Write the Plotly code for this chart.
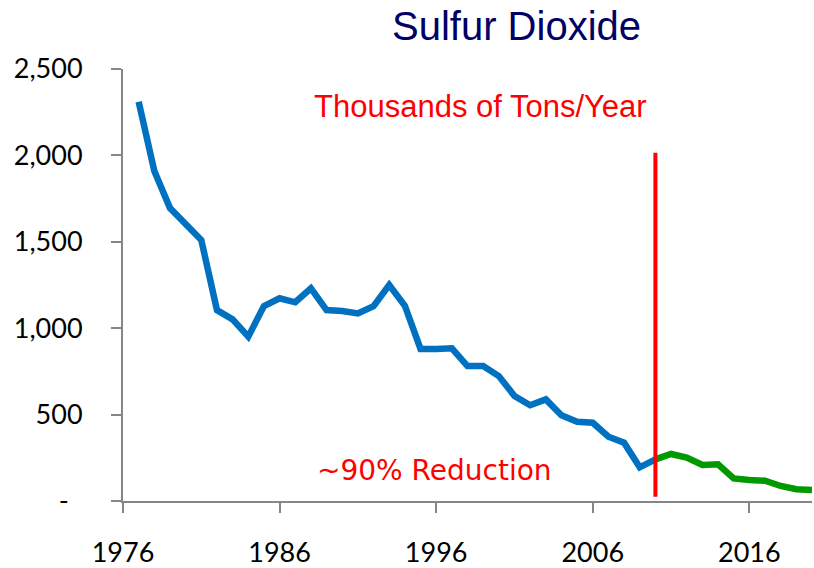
import plotly.graph_objects as go

# SO2 emissions, thousands of tons per year
years_early = list(range(1977, 2011))
so2_early = [2310, 1910, 1695, 1597, 1510, 1105, 1051, 951, 1128, 1173,
             1150, 1231, 1105, 1100, 1086, 1128, 1250, 1130, 880, 880,
             884, 781, 781, 723, 608, 554, 588, 496, 459, 453,
             372, 337, 195, 241]

years_late = list(range(2010, 2021))
so2_late = [241, 272, 251, 208, 212, 131, 122, 117, 87, 68, 64]

x_tick_vals = [1976, 1986, 1996, 2006, 2016]
x_tick_text = ["1976", "1986", "1996", "2006", "2016"]
y_tick_vals = [0, 500, 1000, 1500, 2000, 2500]
y_tick_text = ["-\u00a0\u00a0", "500", "1,000", "1,500", "2,000", "2,500"]

marker_year = 2010
marker_span = [25, 2015]

fig = go.Figure()
fig.add_trace(go.Scatter(x=years_early, y=so2_early, mode="lines",
                         line=dict(color="#0070C0", width=6.5),
                         hoverinfo="x+y"))
fig.add_trace(go.Scatter(x=years_late, y=so2_late, mode="lines",
                         line=dict(color="#009A00", width=6.5),
                         hoverinfo="x+y"))

fig.add_shape(type="line", xref="x", yref="y",
              x0=marker_year, x1=marker_year,
              y0=marker_span[0], y1=marker_span[1],
              line=dict(color="#FF0000", width=4), layer="above")

L, R, T, B = 123, 2, 69, 67
W, H = 814, 568
pw, ph = W - L - R, H - T - B


def px(x):
    return (x - L) / pw


def py(y):
    return (H - B - y) / ph


axis_font = dict(family="Lato, Calibri, sans-serif", size=27, color="#000000")

fig.update_layout(
    width=W, height=H,
    margin=dict(l=L, r=R, t=T, b=B, pad=0, autoexpand=False),
    paper_bgcolor="white", plot_bgcolor="white",
    showlegend=False,
    xaxis=dict(range=[1976, 2020], tickvals=x_tick_vals, ticktext=x_tick_text,
               showgrid=False, zeroline=False, showline=True,
               linecolor="#868686", linewidth=2, automargin=False,
               ticks="outside", ticklen=10, tickwidth=2, tickcolor="#868686",
               ticklabelstandoff=17, tickfont=axis_font),
    yaxis=dict(range=[0, 2500], tickvals=y_tick_vals, ticktext=y_tick_text,
               showgrid=False, zeroline=False, showline=True,
               linecolor="#868686", linewidth=2, automargin=False,
               ticks="outside", ticklen=10, tickwidth=2, tickcolor="#868686",
               ticklabelstandoff=23, tickfont=axis_font),
    annotations=[
        dict(text="Sulfur Dioxide", xref="paper", yref="paper",
             x=px(516), y=py(26), xanchor="center", yanchor="middle",
             showarrow=False,
             font=dict(family="Liberation Sans, Arial, sans-serif", size=40,
                       color="#000066")),
        dict(text="Thousands of Tons/Year", xref="paper", yref="paper",
             x=px(480), y=py(107), xanchor="center", yanchor="middle",
             showarrow=False,
             font=dict(family="Liberation Sans, Arial, sans-serif", size=31,
                       color="#FF0000")),
        dict(text="~90% Reduction", xref="paper", yref="paper",
             x=px(434), y=py(470), xanchor="center", yanchor="middle",
             showarrow=False,
             font=dict(family="DejaVu Sans, Tahoma, sans-serif", size=28,
                       color="#FF0000")),
    ],
)

fig.write_html("out.html")
